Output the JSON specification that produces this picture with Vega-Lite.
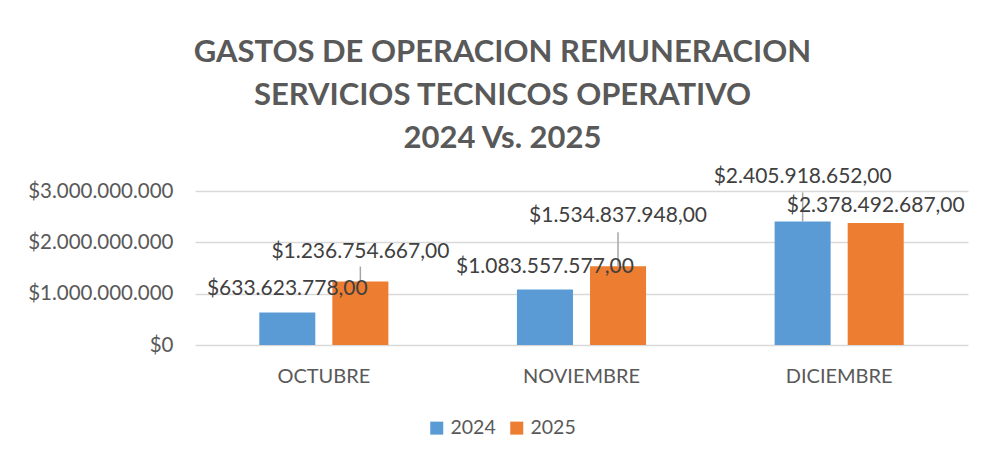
{
  "$schema": "https://vega.github.io/schema/vega-lite/v6.json",
  "width": 773,
  "height": 154,
  "autosize": {"type": "none"},
  "padding": {"left": 195, "top": 191, "right": 20, "bottom": 118},
  "background": "white",
  "config": {
    "view": {"stroke": null},
    "locale": {"number": {"decimal": ",", "thousands": ".", "grouping": [3], "currency": ["$", ""]}}
  },
  "title": {
    "text": ["GASTOS DE OPERACION REMUNERACION", "SERVICIOS TECNICOS OPERATIVO", "2024 Vs. 2025"],
    "font": "Lato",
    "fontSize": 31,
    "fontWeight": "bold",
    "color": "#595959",
    "anchor": "middle",
    "dx": -79,
    "lineHeight": 43,
    "offset": 11
  },
  "data": {
    "values": [
      {"mes": "OCTUBRE", "anio": "2024", "valor": 633623778},
      {"mes": "OCTUBRE", "anio": "2025", "valor": 1236754667},
      {"mes": "NOVIEMBRE", "anio": "2024", "valor": 1083557577},
      {"mes": "NOVIEMBRE", "anio": "2025", "valor": 1534837948},
      {"mes": "DICIEMBRE", "anio": "2024", "valor": 2405918652},
      {"mes": "DICIEMBRE", "anio": "2025", "valor": 2378492687}
    ]
  },
  "encoding": {
    "x": {
      "field": "mes", "type": "nominal",
      "sort": ["OCTUBRE", "NOVIEMBRE", "DICIEMBRE"],
      "scale": {"paddingInner": 0, "paddingOuter": 0},
      "axis": {"title": null, "domain": false, "ticks": false, "labelAngle": 0, "labelFont": "Lato", "labelFontSize": 20, "labelColor": "#595959", "labelPadding": 21}
    },
    "xOffset": {
      "field": "anio", "type": "nominal",
      "scale": {"paddingInner": 0.233, "paddingOuter": 0.88}
    },
    "y": {
      "field": "valor", "type": "quantitative",
      "scale": {"domain": [0, 3000000000]},
      "axis": {"title": null, "values": [0, 1000000000, 2000000000, 3000000000], "format": "$,.0f", "domain": false, "ticks": false, "grid": true, "gridColor": "#d9d9d9", "gridWidth": 1.5, "labelFont": "Lato", "labelFontSize": 20.5, "labelColor": "#595959", "labelPadding": 22}
    }
  },
  "layer": [
    {
      "mark": {"type": "bar"},
      "encoding": {
        "color": {
          "field": "anio", "type": "nominal",
          "scale": {"domain": ["2024", "2025"], "range": ["#5B9BD5", "#ED7D31"]},
          "legend": {"title": null, "orient": "none", "direction": "horizontal", "legendX": 232, "legendY": 227, "symbolType": "square", "symbolSize": 169, "symbolStrokeWidth": 0, "labelFont": "Lato", "labelFontSize": 19.5, "labelColor": "#595959", "labelOffset": 4, "columnPadding": 11}
        }
      }
    },
    {"transform": [{"filter": "datum.mes == 'OCTUBRE' && datum.anio == '2025'"}], "mark": {"type": "rule", "color": "#a6a6a6", "strokeWidth": 1.5, "y2Offset": -15}, "encoding": {"y2": {"field": "valor"}}},
    {"transform": [{"filter": "datum.mes == 'NOVIEMBRE' && datum.anio == '2025'"}], "mark": {"type": "rule", "color": "#a6a6a6", "strokeWidth": 1.5, "y2Offset": -34}, "encoding": {"y2": {"field": "valor"}}},
    {"transform": [{"filter": "datum.mes == 'DICIEMBRE' && datum.anio == '2024'"}], "mark": {"type": "rule", "color": "#a6a6a6", "strokeWidth": 1.5, "y2Offset": -29}, "encoding": {"y2": {"field": "valor"}}},
    {"transform": [{"filter": "datum.mes == 'OCTUBRE' && datum.anio == '2024'"}], "mark": {"type": "text", "font": "Lato", "fontSize": 21, "color": "#404040", "baseline": "alphabetic", "dy": -17}, "encoding": {"text": {"field": "valor", "type": "quantitative", "format": "$,.2f"}}},
    {"transform": [{"filter": "datum.mes == 'OCTUBRE' && datum.anio == '2025'"}], "mark": {"type": "text", "font": "Lato", "fontSize": 21, "color": "#404040", "baseline": "alphabetic", "dy": -24}, "encoding": {"text": {"field": "valor", "type": "quantitative", "format": "$,.2f"}}},
    {"transform": [{"filter": "datum.mes == 'NOVIEMBRE' && datum.anio == '2024'"}], "mark": {"type": "text", "font": "Lato", "fontSize": 21, "color": "#404040", "baseline": "alphabetic", "dy": -16}, "encoding": {"text": {"field": "valor", "type": "quantitative", "format": "$,.2f"}}},
    {"transform": [{"filter": "datum.mes == 'NOVIEMBRE' && datum.anio == '2025'"}], "mark": {"type": "text", "font": "Lato", "fontSize": 21, "color": "#404040", "baseline": "alphabetic", "dy": -44}, "encoding": {"text": {"field": "valor", "type": "quantitative", "format": "$,.2f"}}},
    {"transform": [{"filter": "datum.mes == 'DICIEMBRE' && datum.anio == '2024'"}], "mark": {"type": "text", "font": "Lato", "fontSize": 21, "color": "#404040", "baseline": "alphabetic", "dy": -38}, "encoding": {"text": {"field": "valor", "type": "quantitative", "format": "$,.2f"}}},
    {"transform": [{"filter": "datum.mes == 'DICIEMBRE' && datum.anio == '2025'"}], "mark": {"type": "text", "font": "Lato", "fontSize": 21, "color": "#404040", "baseline": "alphabetic", "dy": -11}, "encoding": {"text": {"field": "valor", "type": "quantitative", "format": "$,.2f"}}}
  ]
}
